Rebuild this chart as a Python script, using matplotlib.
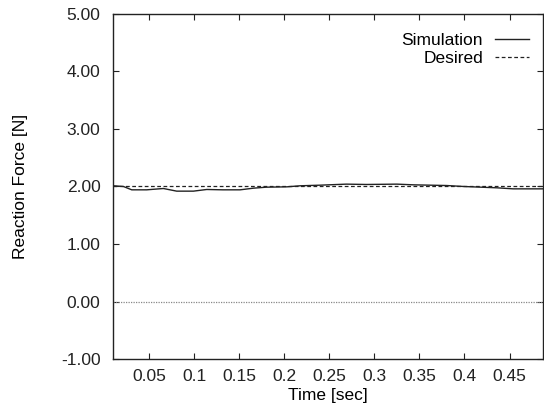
import numpy as np
import matplotlib
matplotlib.use('Agg')
import matplotlib.pyplot as plt

plt.rcParams['font.family'] = ['Liberation Sans', 'DejaVu Sans']

# values
time = [0.0105, 0.0216, 0.0308, 0.0474, 0.0659, 0.0807, 0.0992, 0.114, 0.132, 0.151,
        0.166, 0.180, 0.203, 0.2175, 0.240, 0.269, 0.291, 0.325, 0.343, 0.380,
        0.399, 0.436, 0.454, 0.487]
force_sim = [2.012, 2.0, 1.942, 1.942, 1.965, 1.919, 1.919, 1.948, 1.942, 1.942,
             1.971, 1.988, 1.994, 2.012, 2.023, 2.041, 2.035, 2.041, 2.029, 2.017,
             2.0, 1.977, 1.959, 1.959]
force_desired = 2.0
xticks = [0.05, 0.1, 0.15, 0.2, 0.25, 0.3, 0.35, 0.4, 0.45]
xticklabels = ['0.05', '0.1', '0.15', '0.2', '0.25', '0.3', '0.35', '0.4', '0.45']
yticks = [-1, 0, 1, 2, 3, 4, 5]

fs = 12.5
fig = plt.figure(figsize=(5.44, 4.11), dpi=100)
ax = fig.add_axes([0.2077, 0.1265, 0.7903, 0.8395])

ax.axhline(0, color='#888888', lw=0.9, ls=(0, (1, 1)))
ax.plot(time, force_sim, color='#222222', lw=1.0, label='Simulation')
ax.axhline(force_desired, color='#222222', lw=0.9, ls=(0, (3, 2)), label='Desired')

ax.set_xlim(0.01, 0.487)
ax.set_ylim(-1, 5)
ax.set_xticks(xticks)
ax.set_xticklabels(xticklabels)
ax.set_yticks(yticks)
ax.set_yticklabels(['%.2f' % v for v in yticks])
ax.tick_params(direction='in', length=4, width=0.8, top=True, right=True,
               labelsize=fs, colors='#222222')
ax.tick_params(axis='y', pad=9)
ax.tick_params(axis='x', pad=7)
for s in ax.spines.values():
    s.set_linewidth(1.0)
    s.set_color('#222222')

ax.set_xlabel('Time [sec]', fontsize=fs, labelpad=3)
ax.set_ylabel('Reaction Force [N]', fontsize=fs, labelpad=24)

leg = ax.legend(loc='upper right', bbox_to_anchor=(1.012, 1.0), frameon=False,
                markerfirst=False, fontsize=fs,
                handlelength=1.95, handletextpad=0.7, labelspacing=0.15,
                borderaxespad=0.6, borderpad=0.5)
for t in leg.get_texts():
    t.set_ha('right')

fig.savefig('out.png', dpi=100)
